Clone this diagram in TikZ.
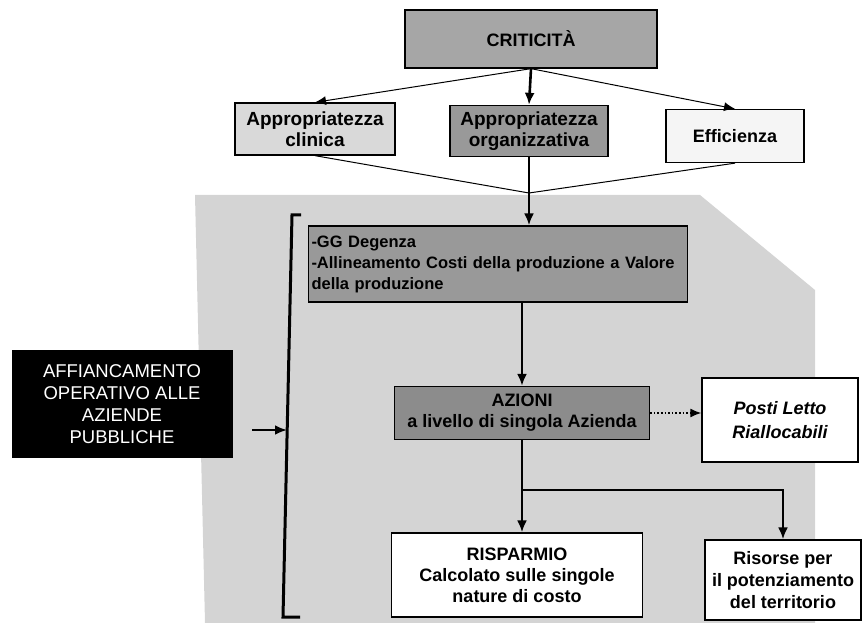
\documentclass[tikz,border=0pt]{standalone}
\usepackage{fontspec}
\setmainfont{Liberation Sans}
\usepackage{tikz}
\usetikzlibrary{arrows.meta}
\tikzstyle{graph}=[x=1pt, y=-1pt, line join=miter]
\tikzstyle{box}=[rectangle, draw, line width=1.3pt, inner sep=0pt, align=center, font=\fontsize{18}{21}\selectfont\bfseries]
\tikzstyle{greybox}=[box, fill=black!40]
\tikzstyle{lightbox}=[box, fill=black!15]
\tikzstyle{whitebox}=[box, fill=white]
\tikzstyle{blackbox}=[rectangle, fill=black, text=white, inner sep=0pt, align=center, font=\fontsize{18.5}{22}\selectfont]
\tikzstyle{edge}=[-{Latex[length=11pt,width=9pt]}, line width=1pt]
\tikzstyle{thickedge}=[-{Latex[length=12pt,width=10pt]}, line width=2.6pt]
\tikzstyle{link}=[line width=1pt]
\tikzstyle{dotedge}=[-{Latex[length=11pt,width=9pt]}, line width=1.6pt, dotted]

\begin{document}
\begin{tikzpicture}[graph]
	\useasboundingbox (0,0) rectangle (863,623);
	% shaded area behind the lower part
	\fill[black!17] (195,195) -- (700,195) -- (815,290) -- (815,623) -- (205,623) -- cycle;

	\draw (531,39) node[greybox, fill=black!35, minimum width=252pt, minimum height=58pt] (crit) {CRITICITÀ};
	\draw (315,129) node[lightbox, minimum width=160pt, minimum height=52pt, font=\fontsize{19}{21}\selectfont\bfseries] (appclin) {Appropriatezza\\clinica};
	\draw (529,131) node[greybox, minimum width=158pt, minimum height=51pt, font=\fontsize{19}{21}\selectfont\bfseries] (apporg) {Appropriatezza\\organizzativa};
	\draw (735,136) node[box, fill=black!4, minimum width=138pt, minimum height=53pt] (eff) {Efficienza};
	\draw (498,264) node[greybox, text width=373pt, inner sep=3pt, minimum height=76pt, align=left, font=\fontsize{16.5}{21}\selectfont\bfseries] (ggdeg) {-GG Degenza\\-Allineamento Costi della produzione a Valore\\della produzione};
	\draw (522,413) node[greybox, fill=black!45, minimum width=255pt, minimum height=53pt] (azioni) {AZIONI\\a livello di singola Azienda};
	\draw (780,420) node[whitebox, minimum width=156pt, minimum height=84pt, font=\fontsize{18}{24}\selectfont\bfseries\itshape] (posti) {Posti Letto\\Riallocabili};
	\draw (517,575) node[whitebox, minimum width=251pt, minimum height=84pt] (rispar) {RISPARMIO\\Calcolato sulle singole\\nature di costo};
	\draw (783,580) node[whitebox, minimum width=156pt, minimum height=80pt, font=\fontsize{18}{22}\selectfont\bfseries] (risorse) {Risorse per\\il potenziamento\\del territorio};
	\draw (122,404) node[blackbox, minimum width=221pt, minimum height=108pt] (affi) {AFFIANCAMENTO\\OPERATIVO ALLE\\AZIENDE\\PUBBLICHE};

	\coordinate (meet) at (529,193);
	\coordinate (split) at (522,490);
	\coordinate (btop) at (292,215);
	\coordinate (bbot) at (283,617);
	\coordinate (bmid) at (287,430);
	\coordinate (tick) at (252,430);

	\draw[edge] (crit.south) -- (appclin.north);
	\draw[edge] (crit.south) -- (eff.north);
	\draw[thickedge] (crit.south) -- (apporg.north);
	\draw[link] (appclin.south) -- (meet);
	\draw[link] (eff.south) -- (meet);
	\draw[thickedge] (apporg.south) -- (apporg.south |- ggdeg.north);
	\draw[thickedge] (azioni.north |- ggdeg.south) -- (azioni.north);
	\draw[dotedge] (azioni.east) -- (azioni.east -| posti.west);
	\draw[thickedge] (azioni.south) -- (azioni.south |- rispar.north);
	\draw[thickedge] (split) -| (risorse.north);

	% bracket
	\draw[line width=3pt] ([xshift=9pt]btop) -- (btop) -- (bbot) -- ([xshift=17pt]bbot);
	\draw[thickedge] (tick) -- (bmid);
\end{tikzpicture}
\end{document}
